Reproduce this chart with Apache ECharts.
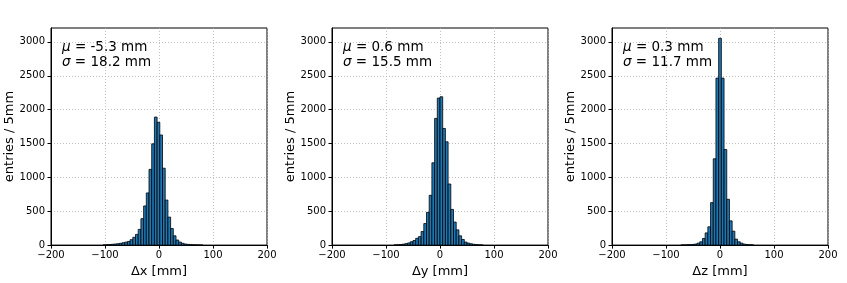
<!DOCTYPE html>
<html>
<head>
<meta charset="utf-8">
<script src="https://cdn.jsdelivr.net/npm/echarts@6/dist/echarts.min.js"></script>
<style>
  html, body { margin: 0; padding: 0; background: #fff; }
  #chart { width: 847px; height: 283px; }
</style>
</head>
<body>
<div id="chart"></div>
<script>
// bin width of every histogram (mm)
const binWidth = 5;

// Δx: left edge of the first bin, then counts per 5 mm bin
const dxStart = -103.5;
const dxCounts = [3, 5, 8, 12, 16, 20, 26, 35, 44, 54, 80, 115, 158, 232, 390, 578, 770, 1118, 1495, 1890,
  1812, 1625, 1135, 665, 413, 245, 137, 75, 45, 26, 16, 11, 7, 5, 3, 2, 1];

// Δy
const dyStart = -85;
const dyCounts = [3, 5, 8, 14, 22, 32, 50, 68, 100, 125, 200, 318, 483, 735, 1215, 1870, 2170,
  2190, 1722, 1525, 902, 527, 340, 225, 137, 83, 45, 30, 20, 12, 7, 4, 2];

// Δz
const dzStart = -72.5;
const dzCounts = [2, 3, 5, 7, 10, 15, 29, 49, 98, 180, 270, 627, 1274, 2465, 3053,
  2465, 1411, 676, 358, 206, 88, 49, 29, 15, 8, 5, 3];

const axisNames = ['Δx [mm]', 'Δy [mm]', 'Δz [mm]'];
const means = ['-5.3', '0.6', '0.3'];
const sigmas = ['18.2', '15.5', '11.7'];
const xTicks = [-200, -100, 0, 100, 200];
const yTicks = [0, 500, 1000, 1500, 2000, 2500, 3000];

const starts = [dxStart, dyStart, dzStart];
const counts = [dxCounts, dyCounts, dzCounts];

const font = 'DejaVu Sans';
const lefts = [51, 332, 612];

let myChart = echarts.init(document.getElementById('chart'), null, {renderer: 'canvas'});

let grid = [], xAxis = [], yAxis = [], series = [], title = [];
for (let i = 0; i < 3; i++) {
  grid.push({
    left: lefts[i], top: 28, width: 216, height: 218,
    show: true, borderColor: '#000', borderWidth: 1, backgroundColor: 'transparent'
  });
  xAxis.push({
    type: 'value', gridIndex: i,
    min: xTicks[0], max: xTicks[xTicks.length - 1], interval: 100,
    name: axisNames[i], nameLocation: 'middle', nameGap: 17,
    nameTextStyle: {fontFamily: font, fontSize: 13, color: '#000'},
    axisLine: {show: true, onZero: false, lineStyle: {color: '#000', width: 1}},
    axisTick: {show: true, length: 3.5, lineStyle: {color: '#000'}},
    axisLabel: {
      fontFamily: font, fontSize: 10, color: '#000', margin: 5,
      formatter: v => (v < 0 ? '\u2212' + Math.abs(v) : String(v))
    },
    splitLine: {show: true, lineStyle: {color: '#b0b0b0', type: [1, 2], width: 0.8}}
  });
  yAxis.push({
    type: 'value', gridIndex: i,
    min: 0, max: 3205, interval: 500,
    name: 'entries / 5mm', nameLocation: 'middle', nameGap: 34, nameRotate: 90,
    nameTextStyle: {fontFamily: font, fontSize: 13, color: '#000'},
    axisLine: {show: true, onZero: false, lineStyle: {color: '#000', width: 1}},
    axisTick: {show: true, length: 3.5, lineStyle: {color: '#000'}},
    axisLabel: {
      fontFamily: font, fontSize: 10, color: '#000', margin: 6, showMaxLabel: false,
      formatter: v => (yTicks.indexOf(v) >= 0 ? String(v) : '')
    },
    splitLine: {show: true, showMaxLine: false, lineStyle: {color: '#b0b0b0', type: [1, 2], width: 0.8}}
  });

  // each datum: [left edge, right edge, count]
  let data = counts[i].map((c, k) => {
    let x0 = starts[i] + k * binWidth;
    return [x0, x0 + binWidth, c];
  });
  series.push({
    type: 'custom', xAxisIndex: i, yAxisIndex: i,
    data: data,
    encode: {x: [0, 1], y: 2},
    renderItem: function (params, api) {
      let p0 = api.coord([api.value(0), 0]);
      let p1 = api.coord([api.value(1), api.value(2)]);
      return {
        type: 'rect',
        shape: {x: p0[0], y: p1[1], width: p1[0] - p0[0], height: p0[1] - p1[1]},
        style: {fill: '#1f77b4', stroke: '#000', lineWidth: 0.8}
      };
    }
  });

  title.push({
    left: lefts[i] + 11, top: 40, padding: 0,
    text: '{i|μ} = ' + means[i] + ' mm\n{i|σ} = ' + sigmas[i] + ' mm',
    textStyle: {
      fontFamily: font, fontSize: 13.5, fontWeight: 'normal', color: '#000', lineHeight: 15,
      rich: {
        i: {fontFamily: font, fontSize: 13.5, fontStyle: 'italic', color: '#000', lineHeight: 15}
      }
    }
  });
}

myChart.setOption({
  animation: false,
  title: title,
  grid: grid,
  xAxis: xAxis,
  yAxis: yAxis,
  series: series
});
</script>
</body>
</html>
